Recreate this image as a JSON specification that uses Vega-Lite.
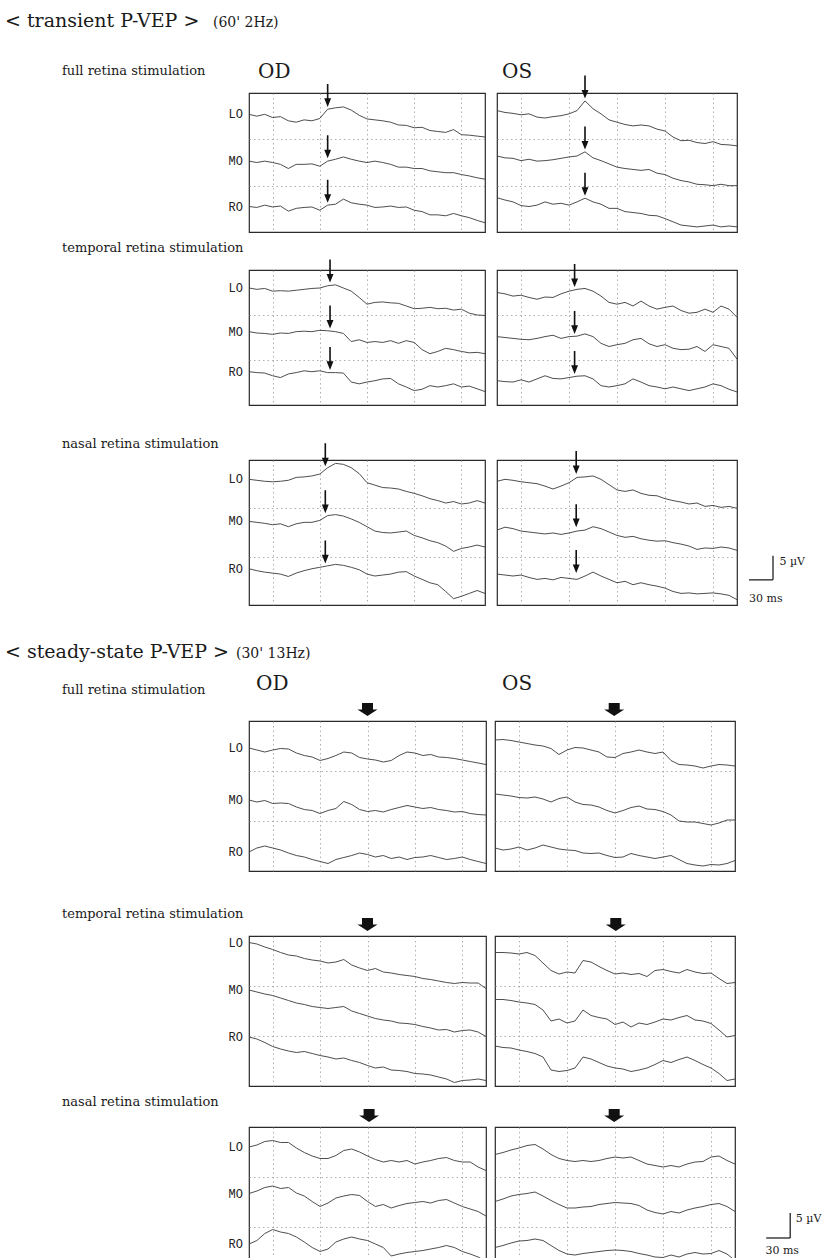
{
"$schema": "https://vega.github.io/schema/vega-lite/v6.json",
"padding": {"left": 5, "top": 11, "right": 0, "bottom": 0},
"background": "white",
"config": {
  "view": {"stroke": "#2a2a2a", "strokeWidth": 1.2},
  "axis": {"grid": true, "gridDash": [1.5, 3], "gridColor": "#9a9a9a", "gridWidth": 0.8, "labels": false, "ticks": false, "domain": false},
  "title": {"font": "DejaVu Serif", "fontWeight": "normal", "color": "#1a1a1a", "anchor": "start", "frame": "group"},
  "text": {"font": "DejaVu Serif", "fill": "#1a1a1a"}
},
"datasets": {
"t1d": [
{"c":"LO","t":0,"v":25.4},{"c":"LO","t":10,"v":25.0},{"c":"LO","t":20,"v":25.4},{"c":"LO","t":30,"v":24.7},{"c":"LO","t":40,"v":24.9},{"c":"LO","t":50,"v":24.0},{"c":"LO","t":60,"v":23.7},{"c":"LO","t":70,"v":24.2},{"c":"LO","t":80,"v":24.0},{"c":"LO","t":90,"v":24.5},{"c":"LO","t":100,"v":26.5},{"c":"LO","t":110,"v":26.8},{"c":"LO","t":120,"v":27.0},{"c":"LO","t":130,"v":26.3},{"c":"LO","t":140,"v":25.2},{"c":"LO","t":150,"v":24.4},{"c":"LO","t":160,"v":24.2},{"c":"LO","t":170,"v":24.0},{"c":"LO","t":180,"v":23.7},{"c":"LO","t":190,"v":23.1},{"c":"LO","t":200,"v":23.0},{"c":"LO","t":210,"v":22.5},{"c":"LO","t":220,"v":22.6},{"c":"LO","t":230,"v":21.9},{"c":"LO","t":240,"v":21.7},{"c":"LO","t":250,"v":21.5},{"c":"LO","t":260,"v":22.1},{"c":"LO","t":270,"v":21.0},{"c":"LO","t":280,"v":20.9},{"c":"LO","t":290,"v":20.7},{"c":"LO","t":300,"v":20.5},
{"c":"MO","t":0,"v":15.3},{"c":"MO","t":10,"v":15.0},{"c":"MO","t":20,"v":15.3},{"c":"MO","t":30,"v":15.0},{"c":"MO","t":40,"v":14.6},{"c":"MO","t":50,"v":13.7},{"c":"MO","t":60,"v":14.6},{"c":"MO","t":70,"v":14.6},{"c":"MO","t":80,"v":14.7},{"c":"MO","t":90,"v":14.2},{"c":"MO","t":100,"v":15.3},{"c":"MO","t":110,"v":15.7},{"c":"MO","t":120,"v":16.2},{"c":"MO","t":130,"v":15.7},{"c":"MO","t":140,"v":15.3},{"c":"MO","t":150,"v":15.0},{"c":"MO","t":160,"v":15.3},{"c":"MO","t":170,"v":15.0},{"c":"MO","t":180,"v":14.6},{"c":"MO","t":190,"v":14.0},{"c":"MO","t":200,"v":14.0},{"c":"MO","t":210,"v":13.7},{"c":"MO","t":220,"v":13.7},{"c":"MO","t":230,"v":13.2},{"c":"MO","t":240,"v":13.0},{"c":"MO","t":250,"v":12.8},{"c":"MO","t":260,"v":12.8},{"c":"MO","t":270,"v":12.4},{"c":"MO","t":280,"v":12.1},{"c":"MO","t":290,"v":11.7},{"c":"MO","t":300,"v":11.4},
{"c":"RO","t":0,"v":5.5},{"c":"RO","t":10,"v":5.3},{"c":"RO","t":20,"v":5.8},{"c":"RO","t":30,"v":5.4},{"c":"RO","t":40,"v":5.6},{"c":"RO","t":50,"v":4.5},{"c":"RO","t":60,"v":5.1},{"c":"RO","t":70,"v":5.3},{"c":"RO","t":80,"v":5.4},{"c":"RO","t":90,"v":4.7},{"c":"RO","t":100,"v":5.8},{"c":"RO","t":110,"v":6.0},{"c":"RO","t":120,"v":7.1},{"c":"RO","t":130,"v":6.3},{"c":"RO","t":140,"v":6.0},{"c":"RO","t":150,"v":5.8},{"c":"RO","t":160,"v":5.3},{"c":"RO","t":170,"v":5.4},{"c":"RO","t":180,"v":5.6},{"c":"RO","t":190,"v":5.3},{"c":"RO","t":200,"v":5.4},{"c":"RO","t":210,"v":4.7},{"c":"RO","t":220,"v":4.4},{"c":"RO","t":230,"v":3.7},{"c":"RO","t":240,"v":3.7},{"c":"RO","t":250,"v":3.5},{"c":"RO","t":260,"v":4.0},{"c":"RO","t":270,"v":3.5},{"c":"RO","t":280,"v":3.1},{"c":"RO","t":290,"v":2.5},{"c":"RO","t":300,"v":2.0}
],
"t1s": [
{"c":"LO","t":0,"v":26.2},{"c":"LO","t":10,"v":25.8},{"c":"LO","t":20,"v":25.6},{"c":"LO","t":30,"v":25.3},{"c":"LO","t":40,"v":25.5},{"c":"LO","t":50,"v":24.8},{"c":"LO","t":60,"v":24.6},{"c":"LO","t":70,"v":24.9},{"c":"LO","t":80,"v":25.1},{"c":"LO","t":90,"v":25.5},{"c":"LO","t":100,"v":26.2},{"c":"LO","t":110,"v":28.3},{"c":"LO","t":120,"v":26.6},{"c":"LO","t":130,"v":25.5},{"c":"LO","t":140,"v":24.2},{"c":"LO","t":150,"v":23.7},{"c":"LO","t":160,"v":23.2},{"c":"LO","t":170,"v":22.9},{"c":"LO","t":180,"v":23.1},{"c":"LO","t":190,"v":22.9},{"c":"LO","t":200,"v":22.2},{"c":"LO","t":210,"v":21.8},{"c":"LO","t":220,"v":20.5},{"c":"LO","t":230,"v":19.7},{"c":"LO","t":240,"v":19.8},{"c":"LO","t":250,"v":19.3},{"c":"LO","t":260,"v":19.1},{"c":"LO","t":270,"v":19.5},{"c":"LO","t":280,"v":18.9},{"c":"LO","t":290,"v":18.8},{"c":"LO","t":300,"v":18.6},
{"c":"MO","t":0,"v":16.4},{"c":"MO","t":10,"v":16.0},{"c":"MO","t":20,"v":15.9},{"c":"MO","t":30,"v":15.4},{"c":"MO","t":40,"v":15.7},{"c":"MO","t":50,"v":15.3},{"c":"MO","t":60,"v":15.4},{"c":"MO","t":70,"v":15.6},{"c":"MO","t":80,"v":15.9},{"c":"MO","t":90,"v":16.2},{"c":"MO","t":100,"v":16.4},{"c":"MO","t":110,"v":17.3},{"c":"MO","t":120,"v":16.0},{"c":"MO","t":130,"v":15.4},{"c":"MO","t":140,"v":14.7},{"c":"MO","t":150,"v":14.0},{"c":"MO","t":160,"v":13.7},{"c":"MO","t":170,"v":13.5},{"c":"MO","t":180,"v":13.3},{"c":"MO","t":190,"v":13.5},{"c":"MO","t":200,"v":12.7},{"c":"MO","t":210,"v":12.4},{"c":"MO","t":220,"v":11.6},{"c":"MO","t":230,"v":11.1},{"c":"MO","t":240,"v":10.8},{"c":"MO","t":250,"v":10.3},{"c":"MO","t":260,"v":10.2},{"c":"MO","t":270,"v":10.0},{"c":"MO","t":280,"v":10.3},{"c":"MO","t":290,"v":10.0},{"c":"MO","t":300,"v":10.0},
{"c":"RO","t":0,"v":7.4},{"c":"RO","t":10,"v":6.9},{"c":"RO","t":20,"v":6.5},{"c":"RO","t":30,"v":5.7},{"c":"RO","t":40,"v":5.5},{"c":"RO","t":50,"v":5.8},{"c":"RO","t":60,"v":6.5},{"c":"RO","t":70,"v":6.0},{"c":"RO","t":80,"v":6.2},{"c":"RO","t":90,"v":5.8},{"c":"RO","t":100,"v":6.5},{"c":"RO","t":110,"v":7.3},{"c":"RO","t":120,"v":6.5},{"c":"RO","t":130,"v":6.0},{"c":"RO","t":140,"v":5.1},{"c":"RO","t":150,"v":5.1},{"c":"RO","t":160,"v":4.4},{"c":"RO","t":170,"v":4.2},{"c":"RO","t":180,"v":4.0},{"c":"RO","t":190,"v":3.6},{"c":"RO","t":200,"v":3.5},{"c":"RO","t":210,"v":2.9},{"c":"RO","t":220,"v":2.2},{"c":"RO","t":230,"v":1.5},{"c":"RO","t":240,"v":1.3},{"c":"RO","t":250,"v":1.1},{"c":"RO","t":260,"v":1.3},{"c":"RO","t":270,"v":1.5},{"c":"RO","t":280,"v":1.1},{"c":"RO","t":290,"v":1.3},{"c":"RO","t":300,"v":1.1}
],
"t2d": [
{"c":"LO","t":0,"v":26.0},{"c":"LO","t":10,"v":25.7},{"c":"LO","t":20,"v":25.9},{"c":"LO","t":30,"v":25.3},{"c":"LO","t":40,"v":25.4},{"c":"LO","t":50,"v":25.3},{"c":"LO","t":60,"v":25.5},{"c":"LO","t":70,"v":25.7},{"c":"LO","t":80,"v":25.9},{"c":"LO","t":90,"v":26.0},{"c":"LO","t":100,"v":26.5},{"c":"LO","t":110,"v":26.7},{"c":"LO","t":120,"v":26.0},{"c":"LO","t":130,"v":25.3},{"c":"LO","t":140,"v":23.9},{"c":"LO","t":150,"v":22.4},{"c":"LO","t":160,"v":22.8},{"c":"LO","t":170,"v":22.9},{"c":"LO","t":180,"v":22.7},{"c":"LO","t":190,"v":22.6},{"c":"LO","t":200,"v":22.0},{"c":"LO","t":210,"v":21.4},{"c":"LO","t":220,"v":21.5},{"c":"LO","t":230,"v":21.7},{"c":"LO","t":240,"v":21.4},{"c":"LO","t":250,"v":21.5},{"c":"LO","t":260,"v":21.1},{"c":"LO","t":270,"v":21.3},{"c":"LO","t":280,"v":20.4},{"c":"LO","t":290,"v":20.0},{"c":"LO","t":300,"v":19.9},
{"c":"MO","t":0,"v":16.3},{"c":"MO","t":10,"v":16.0},{"c":"MO","t":20,"v":15.9},{"c":"MO","t":30,"v":15.7},{"c":"MO","t":40,"v":16.0},{"c":"MO","t":50,"v":15.9},{"c":"MO","t":60,"v":16.3},{"c":"MO","t":70,"v":16.4},{"c":"MO","t":80,"v":16.3},{"c":"MO","t":90,"v":16.6},{"c":"MO","t":100,"v":16.5},{"c":"MO","t":110,"v":16.3},{"c":"MO","t":120,"v":15.9},{"c":"MO","t":130,"v":14.1},{"c":"MO","t":140,"v":14.5},{"c":"MO","t":150,"v":13.9},{"c":"MO","t":160,"v":14.1},{"c":"MO","t":170,"v":13.9},{"c":"MO","t":180,"v":14.3},{"c":"MO","t":190,"v":13.7},{"c":"MO","t":200,"v":14.3},{"c":"MO","t":210,"v":13.9},{"c":"MO","t":220,"v":12.3},{"c":"MO","t":230,"v":11.4},{"c":"MO","t":240,"v":11.9},{"c":"MO","t":250,"v":12.6},{"c":"MO","t":260,"v":12.3},{"c":"MO","t":270,"v":11.9},{"c":"MO","t":280,"v":11.6},{"c":"MO","t":290,"v":11.7},{"c":"MO","t":300,"v":11.4},
{"c":"RO","t":0,"v":7.4},{"c":"RO","t":10,"v":7.2},{"c":"RO","t":20,"v":7.1},{"c":"RO","t":30,"v":6.5},{"c":"RO","t":40,"v":6.1},{"c":"RO","t":50,"v":6.9},{"c":"RO","t":60,"v":7.2},{"c":"RO","t":70,"v":7.6},{"c":"RO","t":80,"v":7.4},{"c":"RO","t":90,"v":7.6},{"c":"RO","t":100,"v":7.2},{"c":"RO","t":110,"v":7.2},{"c":"RO","t":120,"v":7.1},{"c":"RO","t":130,"v":5.1},{"c":"RO","t":140,"v":4.7},{"c":"RO","t":150,"v":5.1},{"c":"RO","t":160,"v":5.4},{"c":"RO","t":170,"v":5.8},{"c":"RO","t":180,"v":5.9},{"c":"RO","t":190,"v":4.7},{"c":"RO","t":200,"v":4.0},{"c":"RO","t":210,"v":3.2},{"c":"RO","t":220,"v":3.5},{"c":"RO","t":230,"v":4.3},{"c":"RO","t":240,"v":4.0},{"c":"RO","t":250,"v":4.3},{"c":"RO","t":260,"v":4.7},{"c":"RO","t":270,"v":4.0},{"c":"RO","t":280,"v":4.2},{"c":"RO","t":290,"v":3.6},{"c":"RO","t":300,"v":3.0}
],
"t2s": [
{"c":"LO","t":0,"v":25.0},{"c":"LO","t":10,"v":24.7},{"c":"LO","t":20,"v":24.2},{"c":"LO","t":30,"v":24.4},{"c":"LO","t":40,"v":23.9},{"c":"LO","t":50,"v":23.5},{"c":"LO","t":60,"v":24.0},{"c":"LO","t":70,"v":23.9},{"c":"LO","t":80,"v":24.7},{"c":"LO","t":90,"v":25.3},{"c":"LO","t":100,"v":25.7},{"c":"LO","t":110,"v":25.9},{"c":"LO","t":120,"v":25.3},{"c":"LO","t":130,"v":24.2},{"c":"LO","t":140,"v":22.8},{"c":"LO","t":150,"v":22.4},{"c":"LO","t":160,"v":22.8},{"c":"LO","t":170,"v":22.0},{"c":"LO","t":180,"v":23.1},{"c":"LO","t":190,"v":22.0},{"c":"LO","t":200,"v":21.3},{"c":"LO","t":210,"v":21.7},{"c":"LO","t":220,"v":22.0},{"c":"LO","t":230,"v":21.0},{"c":"LO","t":240,"v":20.4},{"c":"LO","t":250,"v":20.6},{"c":"LO","t":260,"v":21.3},{"c":"LO","t":270,"v":20.6},{"c":"LO","t":280,"v":22.0},{"c":"LO","t":290,"v":21.3},{"c":"LO","t":300,"v":19.5},
{"c":"MO","t":0,"v":15.2},{"c":"MO","t":10,"v":15.0},{"c":"MO","t":20,"v":14.8},{"c":"MO","t":30,"v":14.6},{"c":"MO","t":40,"v":14.5},{"c":"MO","t":50,"v":14.8},{"c":"MO","t":60,"v":15.2},{"c":"MO","t":70,"v":15.5},{"c":"MO","t":80,"v":14.8},{"c":"MO","t":90,"v":15.2},{"c":"MO","t":100,"v":15.3},{"c":"MO","t":110,"v":15.8},{"c":"MO","t":120,"v":15.2},{"c":"MO","t":130,"v":13.7},{"c":"MO","t":140,"v":13.0},{"c":"MO","t":150,"v":13.4},{"c":"MO","t":160,"v":13.7},{"c":"MO","t":170,"v":14.5},{"c":"MO","t":180,"v":14.8},{"c":"MO","t":190,"v":13.6},{"c":"MO","t":200,"v":13.0},{"c":"MO","t":210,"v":13.4},{"c":"MO","t":220,"v":12.6},{"c":"MO","t":230,"v":12.3},{"c":"MO","t":240,"v":12.4},{"c":"MO","t":250,"v":13.0},{"c":"MO","t":260,"v":11.9},{"c":"MO","t":270,"v":13.4},{"c":"MO","t":280,"v":13.0},{"c":"MO","t":290,"v":12.6},{"c":"MO","t":300,"v":10.2},
{"c":"RO","t":0,"v":5.4},{"c":"RO","t":10,"v":5.2},{"c":"RO","t":20,"v":5.1},{"c":"RO","t":30,"v":5.6},{"c":"RO","t":40,"v":5.1},{"c":"RO","t":50,"v":5.8},{"c":"RO","t":60,"v":6.5},{"c":"RO","t":70,"v":5.9},{"c":"RO","t":80,"v":5.8},{"c":"RO","t":90,"v":6.1},{"c":"RO","t":100,"v":6.4},{"c":"RO","t":110,"v":6.5},{"c":"RO","t":120,"v":5.8},{"c":"RO","t":130,"v":4.3},{"c":"RO","t":140,"v":4.0},{"c":"RO","t":150,"v":4.3},{"c":"RO","t":160,"v":4.7},{"c":"RO","t":170,"v":5.8},{"c":"RO","t":180,"v":5.1},{"c":"RO","t":190,"v":4.3},{"c":"RO","t":200,"v":4.0},{"c":"RO","t":210,"v":3.6},{"c":"RO","t":220,"v":4.0},{"c":"RO","t":230,"v":3.6},{"c":"RO","t":240,"v":3.2},{"c":"RO","t":250,"v":3.6},{"c":"RO","t":260,"v":4.0},{"c":"RO","t":270,"v":4.7},{"c":"RO","t":280,"v":4.3},{"c":"RO","t":290,"v":3.5},{"c":"RO","t":300,"v":2.9}
],
"t3d": [
{"c":"LO","t":0,"v":26.0},{"c":"LO","t":10,"v":25.8},{"c":"LO","t":20,"v":25.6},{"c":"LO","t":30,"v":25.5},{"c":"LO","t":40,"v":25.6},{"c":"LO","t":50,"v":25.8},{"c":"LO","t":60,"v":26.4},{"c":"LO","t":70,"v":26.5},{"c":"LO","t":80,"v":26.7},{"c":"LO","t":90,"v":27.1},{"c":"LO","t":100,"v":28.4},{"c":"LO","t":110,"v":29.3},{"c":"LO","t":120,"v":29.1},{"c":"LO","t":130,"v":28.4},{"c":"LO","t":140,"v":27.2},{"c":"LO","t":150,"v":25.3},{"c":"LO","t":160,"v":24.8},{"c":"LO","t":170,"v":24.3},{"c":"LO","t":180,"v":24.2},{"c":"LO","t":190,"v":24.0},{"c":"LO","t":200,"v":23.5},{"c":"LO","t":210,"v":23.1},{"c":"LO","t":220,"v":22.6},{"c":"LO","t":230,"v":22.0},{"c":"LO","t":240,"v":21.6},{"c":"LO","t":250,"v":21.1},{"c":"LO","t":260,"v":21.4},{"c":"LO","t":270,"v":20.9},{"c":"LO","t":280,"v":21.1},{"c":"LO","t":290,"v":21.6},{"c":"LO","t":300,"v":21.1},
{"c":"MO","t":0,"v":17.3},{"c":"MO","t":10,"v":17.1},{"c":"MO","t":20,"v":16.9},{"c":"MO","t":30,"v":16.6},{"c":"MO","t":40,"v":16.8},{"c":"MO","t":50,"v":16.2},{"c":"MO","t":60,"v":16.8},{"c":"MO","t":70,"v":17.1},{"c":"MO","t":80,"v":17.1},{"c":"MO","t":90,"v":17.5},{"c":"MO","t":100,"v":18.5},{"c":"MO","t":110,"v":18.7},{"c":"MO","t":120,"v":18.4},{"c":"MO","t":130,"v":17.8},{"c":"MO","t":140,"v":17.1},{"c":"MO","t":150,"v":16.2},{"c":"MO","t":160,"v":15.3},{"c":"MO","t":170,"v":15.0},{"c":"MO","t":180,"v":14.9},{"c":"MO","t":190,"v":15.1},{"c":"MO","t":200,"v":15.3},{"c":"MO","t":210,"v":14.4},{"c":"MO","t":220,"v":13.9},{"c":"MO","t":230,"v":13.3},{"c":"MO","t":240,"v":12.9},{"c":"MO","t":250,"v":12.2},{"c":"MO","t":260,"v":11.1},{"c":"MO","t":270,"v":11.7},{"c":"MO","t":280,"v":12.0},{"c":"MO","t":290,"v":12.4},{"c":"MO","t":300,"v":12.0},
{"c":"RO","t":0,"v":7.5},{"c":"RO","t":10,"v":7.1},{"c":"RO","t":20,"v":6.8},{"c":"RO","t":30,"v":6.6},{"c":"RO","t":40,"v":6.4},{"c":"RO","t":50,"v":5.9},{"c":"RO","t":60,"v":6.6},{"c":"RO","t":70,"v":7.1},{"c":"RO","t":80,"v":7.5},{"c":"RO","t":90,"v":7.8},{"c":"RO","t":100,"v":8.1},{"c":"RO","t":110,"v":8.4},{"c":"RO","t":120,"v":8.2},{"c":"RO","t":130,"v":7.8},{"c":"RO","t":140,"v":7.3},{"c":"RO","t":150,"v":6.4},{"c":"RO","t":160,"v":6.0},{"c":"RO","t":170,"v":6.2},{"c":"RO","t":180,"v":6.4},{"c":"RO","t":190,"v":6.8},{"c":"RO","t":200,"v":6.9},{"c":"RO","t":210,"v":6.0},{"c":"RO","t":220,"v":5.3},{"c":"RO","t":230,"v":4.6},{"c":"RO","t":240,"v":4.2},{"c":"RO","t":250,"v":2.8},{"c":"RO","t":260,"v":1.3},{"c":"RO","t":270,"v":1.8},{"c":"RO","t":280,"v":2.4},{"c":"RO","t":290,"v":3.0},{"c":"RO","t":300,"v":2.4}
],
"t3s": [
{"c":"LO","t":0,"v":25.6},{"c":"LO","t":10,"v":26.0},{"c":"LO","t":20,"v":25.8},{"c":"LO","t":30,"v":25.5},{"c":"LO","t":40,"v":25.3},{"c":"LO","t":50,"v":25.1},{"c":"LO","t":60,"v":24.6},{"c":"LO","t":70,"v":24.0},{"c":"LO","t":80,"v":24.6},{"c":"LO","t":90,"v":25.3},{"c":"LO","t":100,"v":26.4},{"c":"LO","t":110,"v":26.5},{"c":"LO","t":120,"v":26.7},{"c":"LO","t":130,"v":26.0},{"c":"LO","t":140,"v":24.9},{"c":"LO","t":150,"v":23.8},{"c":"LO","t":160,"v":23.5},{"c":"LO","t":170,"v":23.8},{"c":"LO","t":180,"v":23.1},{"c":"LO","t":190,"v":22.7},{"c":"LO","t":200,"v":22.6},{"c":"LO","t":210,"v":22.0},{"c":"LO","t":220,"v":21.6},{"c":"LO","t":230,"v":21.3},{"c":"LO","t":240,"v":20.9},{"c":"LO","t":250,"v":21.1},{"c":"LO","t":260,"v":20.4},{"c":"LO","t":270,"v":20.6},{"c":"LO","t":280,"v":20.2},{"c":"LO","t":290,"v":20.4},{"c":"LO","t":300,"v":20.0},
{"c":"MO","t":0,"v":15.5},{"c":"MO","t":10,"v":16.1},{"c":"MO","t":20,"v":15.8},{"c":"MO","t":30,"v":15.3},{"c":"MO","t":40,"v":15.1},{"c":"MO","t":50,"v":14.9},{"c":"MO","t":60,"v":14.7},{"c":"MO","t":70,"v":14.9},{"c":"MO","t":80,"v":14.6},{"c":"MO","t":90,"v":14.9},{"c":"MO","t":100,"v":15.3},{"c":"MO","t":110,"v":15.5},{"c":"MO","t":120,"v":16.2},{"c":"MO","t":130,"v":15.8},{"c":"MO","t":140,"v":15.1},{"c":"MO","t":150,"v":14.4},{"c":"MO","t":160,"v":14.0},{"c":"MO","t":170,"v":14.2},{"c":"MO","t":180,"v":13.7},{"c":"MO","t":190,"v":13.4},{"c":"MO","t":200,"v":13.2},{"c":"MO","t":210,"v":13.3},{"c":"MO","t":220,"v":12.9},{"c":"MO","t":230,"v":12.6},{"c":"MO","t":240,"v":12.2},{"c":"MO","t":250,"v":11.5},{"c":"MO","t":260,"v":11.8},{"c":"MO","t":270,"v":11.7},{"c":"MO","t":280,"v":12.0},{"c":"MO","t":290,"v":11.8},{"c":"MO","t":300,"v":11.3},
{"c":"RO","t":0,"v":6.4},{"c":"RO","t":10,"v":6.2},{"c":"RO","t":20,"v":6.0},{"c":"RO","t":30,"v":6.2},{"c":"RO","t":40,"v":5.7},{"c":"RO","t":50,"v":5.3},{"c":"RO","t":60,"v":5.5},{"c":"RO","t":70,"v":5.2},{"c":"RO","t":80,"v":5.7},{"c":"RO","t":90,"v":5.5},{"c":"RO","t":100,"v":5.3},{"c":"RO","t":110,"v":6.0},{"c":"RO","t":120,"v":6.8},{"c":"RO","t":130,"v":6.0},{"c":"RO","t":140,"v":5.3},{"c":"RO","t":150,"v":4.6},{"c":"RO","t":160,"v":4.9},{"c":"RO","t":170,"v":4.2},{"c":"RO","t":180,"v":4.6},{"c":"RO","t":190,"v":4.2},{"c":"RO","t":200,"v":3.9},{"c":"RO","t":210,"v":3.5},{"c":"RO","t":220,"v":2.8},{"c":"RO","t":230,"v":2.4},{"c":"RO","t":240,"v":2.5},{"c":"RO","t":250,"v":2.3},{"c":"RO","t":260,"v":2.4},{"c":"RO","t":270,"v":2.5},{"c":"RO","t":280,"v":2.3},{"c":"RO","t":290,"v":2.0},{"c":"RO","t":300,"v":1.1}
],
"s1d": [
{"c":"LO","t":0,"v":24.6},{"c":"LO","t":10,"v":24.2},{"c":"LO","t":20,"v":23.8},{"c":"LO","t":30,"v":24.2},{"c":"LO","t":40,"v":24.5},{"c":"LO","t":50,"v":24.4},{"c":"LO","t":60,"v":23.6},{"c":"LO","t":70,"v":23.1},{"c":"LO","t":80,"v":22.8},{"c":"LO","t":90,"v":22.1},{"c":"LO","t":100,"v":22.5},{"c":"LO","t":110,"v":23.1},{"c":"LO","t":120,"v":23.8},{"c":"LO","t":130,"v":23.6},{"c":"LO","t":140,"v":22.7},{"c":"LO","t":150,"v":22.4},{"c":"LO","t":160,"v":22.2},{"c":"LO","t":170,"v":21.8},{"c":"LO","t":180,"v":22.1},{"c":"LO","t":190,"v":23.1},{"c":"LO","t":200,"v":23.8},{"c":"LO","t":210,"v":23.6},{"c":"LO","t":220,"v":23.1},{"c":"LO","t":230,"v":23.3},{"c":"LO","t":240,"v":22.8},{"c":"LO","t":250,"v":22.7},{"c":"LO","t":260,"v":22.5},{"c":"LO","t":270,"v":22.2},{"c":"LO","t":280,"v":21.9},{"c":"LO","t":290,"v":21.6},{"c":"LO","t":300,"v":21.3},
{"c":"MO","t":0,"v":14.2},{"c":"MO","t":10,"v":13.8},{"c":"MO","t":20,"v":14.1},{"c":"MO","t":30,"v":13.5},{"c":"MO","t":40,"v":13.6},{"c":"MO","t":50,"v":13.5},{"c":"MO","t":60,"v":12.8},{"c":"MO","t":70,"v":12.3},{"c":"MO","t":80,"v":12.1},{"c":"MO","t":90,"v":11.5},{"c":"MO","t":100,"v":12.1},{"c":"MO","t":110,"v":12.5},{"c":"MO","t":120,"v":13.9},{"c":"MO","t":130,"v":13.3},{"c":"MO","t":140,"v":12.3},{"c":"MO","t":150,"v":11.9},{"c":"MO","t":160,"v":12.1},{"c":"MO","t":170,"v":11.8},{"c":"MO","t":180,"v":12.3},{"c":"MO","t":190,"v":12.7},{"c":"MO","t":200,"v":13.1},{"c":"MO","t":210,"v":12.8},{"c":"MO","t":220,"v":12.5},{"c":"MO","t":230,"v":12.7},{"c":"MO","t":240,"v":12.3},{"c":"MO","t":250,"v":12.1},{"c":"MO","t":260,"v":11.8},{"c":"MO","t":270,"v":11.9},{"c":"MO","t":280,"v":11.5},{"c":"MO","t":290,"v":11.3},{"c":"MO","t":300,"v":11.2},
{"c":"RO","t":0,"v":3.8},{"c":"RO","t":10,"v":4.6},{"c":"RO","t":20,"v":5.0},{"c":"RO","t":30,"v":4.6},{"c":"RO","t":40,"v":4.2},{"c":"RO","t":50,"v":3.6},{"c":"RO","t":60,"v":3.1},{"c":"RO","t":70,"v":2.8},{"c":"RO","t":80,"v":2.3},{"c":"RO","t":90,"v":1.9},{"c":"RO","t":100,"v":1.5},{"c":"RO","t":110,"v":2.3},{"c":"RO","t":120,"v":2.7},{"c":"RO","t":130,"v":3.1},{"c":"RO","t":140,"v":3.6},{"c":"RO","t":150,"v":3.3},{"c":"RO","t":160,"v":2.8},{"c":"RO","t":170,"v":3.1},{"c":"RO","t":180,"v":2.5},{"c":"RO","t":190,"v":2.8},{"c":"RO","t":200,"v":2.3},{"c":"RO","t":210,"v":2.7},{"c":"RO","t":220,"v":2.8},{"c":"RO","t":230,"v":3.1},{"c":"RO","t":240,"v":2.7},{"c":"RO","t":250,"v":2.3},{"c":"RO","t":260,"v":2.5},{"c":"RO","t":270,"v":2.8},{"c":"RO","t":280,"v":2.3},{"c":"RO","t":290,"v":1.9},{"c":"RO","t":300,"v":1.5}
],
"s1s": [
{"c":"LO","t":0,"v":26.2},{"c":"LO","t":10,"v":26.3},{"c":"LO","t":20,"v":26.1},{"c":"LO","t":30,"v":25.8},{"c":"LO","t":40,"v":25.5},{"c":"LO","t":50,"v":25.2},{"c":"LO","t":60,"v":25.0},{"c":"LO","t":70,"v":24.5},{"c":"LO","t":80,"v":23.3},{"c":"LO","t":90,"v":24.2},{"c":"LO","t":100,"v":24.7},{"c":"LO","t":110,"v":24.6},{"c":"LO","t":120,"v":24.2},{"c":"LO","t":130,"v":23.8},{"c":"LO","t":140,"v":22.8},{"c":"LO","t":150,"v":22.7},{"c":"LO","t":160,"v":23.5},{"c":"LO","t":170,"v":23.8},{"c":"LO","t":180,"v":24.2},{"c":"LO","t":190,"v":23.8},{"c":"LO","t":200,"v":23.5},{"c":"LO","t":210,"v":23.8},{"c":"LO","t":220,"v":22.1},{"c":"LO","t":230,"v":21.3},{"c":"LO","t":240,"v":21.2},{"c":"LO","t":250,"v":21.0},{"c":"LO","t":260,"v":20.6},{"c":"LO","t":270,"v":21.0},{"c":"LO","t":280,"v":21.3},{"c":"LO","t":290,"v":21.2},{"c":"LO","t":300,"v":21.0},
{"c":"MO","t":0,"v":15.4},{"c":"MO","t":10,"v":15.2},{"c":"MO","t":20,"v":15.0},{"c":"MO","t":30,"v":14.7},{"c":"MO","t":40,"v":14.6},{"c":"MO","t":50,"v":14.8},{"c":"MO","t":60,"v":14.4},{"c":"MO","t":70,"v":13.8},{"c":"MO","t":80,"v":14.5},{"c":"MO","t":90,"v":14.8},{"c":"MO","t":100,"v":13.8},{"c":"MO","t":110,"v":13.3},{"c":"MO","t":120,"v":13.2},{"c":"MO","t":130,"v":12.8},{"c":"MO","t":140,"v":12.1},{"c":"MO","t":150,"v":11.6},{"c":"MO","t":160,"v":12.1},{"c":"MO","t":170,"v":12.7},{"c":"MO","t":180,"v":13.0},{"c":"MO","t":190,"v":12.4},{"c":"MO","t":200,"v":12.3},{"c":"MO","t":210,"v":11.9},{"c":"MO","t":220,"v":11.2},{"c":"MO","t":230,"v":10.0},{"c":"MO","t":240,"v":9.8},{"c":"MO","t":250,"v":9.8},{"c":"MO","t":260,"v":9.5},{"c":"MO","t":270,"v":9.2},{"c":"MO","t":280,"v":9.6},{"c":"MO","t":290,"v":10.2},{"c":"MO","t":300,"v":10.2},
{"c":"RO","t":0,"v":4.6},{"c":"RO","t":10,"v":4.2},{"c":"RO","t":20,"v":4.4},{"c":"RO","t":30,"v":4.8},{"c":"RO","t":40,"v":4.2},{"c":"RO","t":50,"v":4.6},{"c":"RO","t":60,"v":5.2},{"c":"RO","t":70,"v":4.8},{"c":"RO","t":80,"v":4.4},{"c":"RO","t":90,"v":4.2},{"c":"RO","t":100,"v":4.1},{"c":"RO","t":110,"v":3.6},{"c":"RO","t":120,"v":3.5},{"c":"RO","t":130,"v":3.6},{"c":"RO","t":140,"v":3.1},{"c":"RO","t":150,"v":2.7},{"c":"RO","t":160,"v":2.8},{"c":"RO","t":170,"v":3.5},{"c":"RO","t":180,"v":3.1},{"c":"RO","t":190,"v":2.8},{"c":"RO","t":200,"v":2.5},{"c":"RO","t":210,"v":2.8},{"c":"RO","t":220,"v":3.1},{"c":"RO","t":230,"v":2.3},{"c":"RO","t":240,"v":1.5},{"c":"RO","t":250,"v":1.2},{"c":"RO","t":260,"v":1.0},{"c":"RO","t":270,"v":1.3},{"c":"RO","t":280,"v":1.2},{"c":"RO","t":290,"v":1.5},{"c":"RO","t":300,"v":2.1}
],
"s2d": [
{"c":"LO","t":0,"v":28.7},{"c":"LO","t":10,"v":28.4},{"c":"LO","t":20,"v":27.8},{"c":"LO","t":30,"v":27.3},{"c":"LO","t":40,"v":26.7},{"c":"LO","t":50,"v":26.2},{"c":"LO","t":60,"v":26.0},{"c":"LO","t":70,"v":25.5},{"c":"LO","t":80,"v":25.2},{"c":"LO","t":90,"v":25.0},{"c":"LO","t":100,"v":24.6},{"c":"LO","t":110,"v":24.8},{"c":"LO","t":120,"v":25.3},{"c":"LO","t":130,"v":24.2},{"c":"LO","t":140,"v":23.6},{"c":"LO","t":150,"v":23.1},{"c":"LO","t":160,"v":23.5},{"c":"LO","t":170,"v":22.8},{"c":"LO","t":180,"v":22.6},{"c":"LO","t":190,"v":22.3},{"c":"LO","t":200,"v":22.1},{"c":"LO","t":210,"v":21.9},{"c":"LO","t":220,"v":21.5},{"c":"LO","t":230,"v":21.3},{"c":"LO","t":240,"v":21.0},{"c":"LO","t":250,"v":20.7},{"c":"LO","t":260,"v":20.5},{"c":"LO","t":270,"v":20.7},{"c":"LO","t":280,"v":20.6},{"c":"LO","t":290,"v":20.6},{"c":"LO","t":300,"v":19.5},
{"c":"MO","t":0,"v":19.2},{"c":"MO","t":10,"v":18.8},{"c":"MO","t":20,"v":18.4},{"c":"MO","t":30,"v":18.1},{"c":"MO","t":40,"v":17.6},{"c":"MO","t":50,"v":17.1},{"c":"MO","t":60,"v":16.6},{"c":"MO","t":70,"v":16.3},{"c":"MO","t":80,"v":15.9},{"c":"MO","t":90,"v":15.7},{"c":"MO","t":100,"v":15.5},{"c":"MO","t":110,"v":15.7},{"c":"MO","t":120,"v":15.9},{"c":"MO","t":130,"v":15.0},{"c":"MO","t":140,"v":14.5},{"c":"MO","t":150,"v":14.0},{"c":"MO","t":160,"v":13.5},{"c":"MO","t":170,"v":13.2},{"c":"MO","t":180,"v":13.0},{"c":"MO","t":190,"v":12.6},{"c":"MO","t":200,"v":12.5},{"c":"MO","t":210,"v":12.3},{"c":"MO","t":220,"v":11.9},{"c":"MO","t":230,"v":11.6},{"c":"MO","t":240,"v":11.2},{"c":"MO","t":250,"v":11.3},{"c":"MO","t":260,"v":10.8},{"c":"MO","t":270,"v":11.1},{"c":"MO","t":280,"v":11.2},{"c":"MO","t":290,"v":10.8},{"c":"MO","t":300,"v":9.9},
{"c":"RO","t":0,"v":9.8},{"c":"RO","t":10,"v":9.4},{"c":"RO","t":20,"v":8.7},{"c":"RO","t":30,"v":7.9},{"c":"RO","t":40,"v":7.4},{"c":"RO","t":50,"v":7.0},{"c":"RO","t":60,"v":6.7},{"c":"RO","t":70,"v":6.9},{"c":"RO","t":80,"v":6.5},{"c":"RO","t":90,"v":6.1},{"c":"RO","t":100,"v":5.8},{"c":"RO","t":110,"v":5.4},{"c":"RO","t":120,"v":5.6},{"c":"RO","t":130,"v":5.1},{"c":"RO","t":140,"v":4.7},{"c":"RO","t":150,"v":4.1},{"c":"RO","t":160,"v":3.6},{"c":"RO","t":170,"v":3.8},{"c":"RO","t":180,"v":3.2},{"c":"RO","t":190,"v":3.1},{"c":"RO","t":200,"v":2.9},{"c":"RO","t":210,"v":2.5},{"c":"RO","t":220,"v":2.4},{"c":"RO","t":230,"v":2.2},{"c":"RO","t":240,"v":1.8},{"c":"RO","t":250,"v":1.4},{"c":"RO","t":260,"v":0.7},{"c":"RO","t":270,"v":1.1},{"c":"RO","t":280,"v":1.2},{"c":"RO","t":290,"v":1.4},{"c":"RO","t":300,"v":1.1}
],
"s2s": [
{"c":"LO","t":0,"v":26.7},{"c":"LO","t":10,"v":26.7},{"c":"LO","t":20,"v":26.6},{"c":"LO","t":30,"v":26.4},{"c":"LO","t":40,"v":26.7},{"c":"LO","t":50,"v":26.1},{"c":"LO","t":60,"v":24.6},{"c":"LO","t":70,"v":23.1},{"c":"LO","t":80,"v":22.4},{"c":"LO","t":90,"v":22.8},{"c":"LO","t":100,"v":22.6},{"c":"LO","t":110,"v":25.1},{"c":"LO","t":120,"v":24.8},{"c":"LO","t":130,"v":23.9},{"c":"LO","t":140,"v":23.1},{"c":"LO","t":150,"v":22.4},{"c":"LO","t":160,"v":22.6},{"c":"LO","t":170,"v":22.3},{"c":"LO","t":180,"v":22.5},{"c":"LO","t":190,"v":21.9},{"c":"LO","t":200,"v":23.1},{"c":"LO","t":210,"v":23.3},{"c":"LO","t":220,"v":22.9},{"c":"LO","t":230,"v":22.6},{"c":"LO","t":240,"v":23.3},{"c":"LO","t":250,"v":22.8},{"c":"LO","t":260,"v":22.5},{"c":"LO","t":270,"v":22.6},{"c":"LO","t":280,"v":21.5},{"c":"LO","t":290,"v":20.5},{"c":"LO","t":300,"v":20.7},
{"c":"MO","t":0,"v":17.3},{"c":"MO","t":10,"v":17.3},{"c":"MO","t":20,"v":17.1},{"c":"MO","t":30,"v":16.8},{"c":"MO","t":40,"v":16.6},{"c":"MO","t":50,"v":16.3},{"c":"MO","t":60,"v":15.2},{"c":"MO","t":70,"v":13.0},{"c":"MO","t":80,"v":13.4},{"c":"MO","t":90,"v":12.6},{"c":"MO","t":100,"v":13.0},{"c":"MO","t":110,"v":15.2},{"c":"MO","t":120,"v":14.1},{"c":"MO","t":130,"v":13.7},{"c":"MO","t":140,"v":13.4},{"c":"MO","t":150,"v":12.3},{"c":"MO","t":160,"v":12.8},{"c":"MO","t":170,"v":11.8},{"c":"MO","t":180,"v":12.6},{"c":"MO","t":190,"v":12.3},{"c":"MO","t":200,"v":12.8},{"c":"MO","t":210,"v":13.4},{"c":"MO","t":220,"v":13.2},{"c":"MO","t":230,"v":13.7},{"c":"MO","t":240,"v":14.1},{"c":"MO","t":250,"v":13.2},{"c":"MO","t":260,"v":13.0},{"c":"MO","t":270,"v":12.5},{"c":"MO","t":280,"v":11.2},{"c":"MO","t":290,"v":9.8},{"c":"MO","t":300,"v":10.1},
{"c":"RO","t":0,"v":8.0},{"c":"RO","t":10,"v":7.7},{"c":"RO","t":20,"v":7.6},{"c":"RO","t":30,"v":7.2},{"c":"RO","t":40,"v":6.9},{"c":"RO","t":50,"v":6.5},{"c":"RO","t":60,"v":5.8},{"c":"RO","t":70,"v":3.2},{"c":"RO","t":80,"v":2.9},{"c":"RO","t":90,"v":3.1},{"c":"RO","t":100,"v":3.6},{"c":"RO","t":110,"v":5.8},{"c":"RO","t":120,"v":5.4},{"c":"RO","t":130,"v":4.7},{"c":"RO","t":140,"v":4.0},{"c":"RO","t":150,"v":3.6},{"c":"RO","t":160,"v":3.4},{"c":"RO","t":170,"v":2.9},{"c":"RO","t":180,"v":3.2},{"c":"RO","t":190,"v":3.6},{"c":"RO","t":200,"v":4.3},{"c":"RO","t":210,"v":5.1},{"c":"RO","t":220,"v":4.7},{"c":"RO","t":230,"v":5.3},{"c":"RO","t":240,"v":5.8},{"c":"RO","t":250,"v":5.1},{"c":"RO","t":260,"v":4.3},{"c":"RO","t":270,"v":3.6},{"c":"RO","t":280,"v":2.5},{"c":"RO","t":290,"v":1.1},{"c":"RO","t":300,"v":1.4}
],
"s3d": [
{"c":"LO","t":0,"v":26.0},{"c":"LO","t":10,"v":26.4},{"c":"LO","t":20,"v":27.1},{"c":"LO","t":30,"v":27.3},{"c":"LO","t":40,"v":26.9},{"c":"LO","t":50,"v":26.9},{"c":"LO","t":60,"v":25.8},{"c":"LO","t":70,"v":24.9},{"c":"LO","t":80,"v":24.2},{"c":"LO","t":90,"v":23.7},{"c":"LO","t":100,"v":23.7},{"c":"LO","t":110,"v":24.3},{"c":"LO","t":120,"v":25.3},{"c":"LO","t":130,"v":25.6},{"c":"LO","t":140,"v":25.0},{"c":"LO","t":150,"v":24.2},{"c":"LO","t":160,"v":23.5},{"c":"LO","t":170,"v":23.0},{"c":"LO","t":180,"v":23.3},{"c":"LO","t":190,"v":23.0},{"c":"LO","t":200,"v":23.3},{"c":"LO","t":210,"v":22.6},{"c":"LO","t":220,"v":23.0},{"c":"LO","t":230,"v":23.3},{"c":"LO","t":240,"v":23.7},{"c":"LO","t":250,"v":23.9},{"c":"LO","t":260,"v":23.3},{"c":"LO","t":270,"v":23.0},{"c":"LO","t":280,"v":23.0},{"c":"LO","t":290,"v":22.0},{"c":"LO","t":300,"v":21.3},
{"c":"MO","t":0,"v":16.7},{"c":"MO","t":10,"v":17.2},{"c":"MO","t":20,"v":17.9},{"c":"MO","t":30,"v":18.2},{"c":"MO","t":40,"v":17.7},{"c":"MO","t":50,"v":17.9},{"c":"MO","t":60,"v":16.8},{"c":"MO","t":70,"v":16.2},{"c":"MO","t":80,"v":15.1},{"c":"MO","t":90,"v":14.1},{"c":"MO","t":100,"v":14.8},{"c":"MO","t":110,"v":15.8},{"c":"MO","t":120,"v":16.2},{"c":"MO","t":130,"v":16.5},{"c":"MO","t":140,"v":16.3},{"c":"MO","t":150,"v":15.1},{"c":"MO","t":160,"v":14.1},{"c":"MO","t":170,"v":14.5},{"c":"MO","t":180,"v":13.8},{"c":"MO","t":190,"v":14.3},{"c":"MO","t":200,"v":14.7},{"c":"MO","t":210,"v":14.9},{"c":"MO","t":220,"v":15.1},{"c":"MO","t":230,"v":14.8},{"c":"MO","t":240,"v":15.3},{"c":"MO","t":250,"v":15.5},{"c":"MO","t":260,"v":14.8},{"c":"MO","t":270,"v":14.1},{"c":"MO","t":280,"v":13.6},{"c":"MO","t":290,"v":13.1},{"c":"MO","t":300,"v":12.2},
{"c":"RO","t":0,"v":6.6},{"c":"RO","t":10,"v":7.3},{"c":"RO","t":20,"v":8.7},{"c":"RO","t":30,"v":9.5},{"c":"RO","t":40,"v":9.0},{"c":"RO","t":50,"v":8.7},{"c":"RO","t":60,"v":8.0},{"c":"RO","t":70,"v":7.0},{"c":"RO","t":80,"v":5.9},{"c":"RO","t":90,"v":5.1},{"c":"RO","t":100,"v":5.6},{"c":"RO","t":110,"v":7.0},{"c":"RO","t":120,"v":7.6},{"c":"RO","t":130,"v":8.0},{"c":"RO","t":140,"v":7.6},{"c":"RO","t":150,"v":7.3},{"c":"RO","t":160,"v":6.6},{"c":"RO","t":170,"v":5.9},{"c":"RO","t":180,"v":4.2},{"c":"RO","t":190,"v":4.6},{"c":"RO","t":200,"v":4.9},{"c":"RO","t":210,"v":5.1},{"c":"RO","t":220,"v":5.3},{"c":"RO","t":230,"v":5.6},{"c":"RO","t":240,"v":5.9},{"c":"RO","t":250,"v":6.3},{"c":"RO","t":260,"v":5.9},{"c":"RO","t":270,"v":5.1},{"c":"RO","t":280,"v":4.6},{"c":"RO","t":290,"v":4.0},{"c":"RO","t":300,"v":3.1}
],
"s3s": [
{"c":"LO","t":0,"v":24.5},{"c":"LO","t":10,"v":24.9},{"c":"LO","t":20,"v":25.4},{"c":"LO","t":30,"v":25.8},{"c":"LO","t":40,"v":26.3},{"c":"LO","t":50,"v":26.5},{"c":"LO","t":60,"v":25.6},{"c":"LO","t":70,"v":24.5},{"c":"LO","t":80,"v":23.7},{"c":"LO","t":90,"v":23.3},{"c":"LO","t":100,"v":23.1},{"c":"LO","t":110,"v":23.3},{"c":"LO","t":120,"v":23.1},{"c":"LO","t":130,"v":23.3},{"c":"LO","t":140,"v":23.7},{"c":"LO","t":150,"v":24.0},{"c":"LO","t":160,"v":23.8},{"c":"LO","t":170,"v":24.0},{"c":"LO","t":180,"v":23.3},{"c":"LO","t":190,"v":22.6},{"c":"LO","t":200,"v":22.3},{"c":"LO","t":210,"v":22.0},{"c":"LO","t":220,"v":22.3},{"c":"LO","t":230,"v":22.0},{"c":"LO","t":240,"v":22.6},{"c":"LO","t":250,"v":23.0},{"c":"LO","t":260,"v":23.1},{"c":"LO","t":270,"v":24.0},{"c":"LO","t":280,"v":24.2},{"c":"LO","t":290,"v":23.3},{"c":"LO","t":300,"v":22.6},
{"c":"MO","t":0,"v":15.1},{"c":"MO","t":10,"v":15.6},{"c":"MO","t":20,"v":16.2},{"c":"MO","t":30,"v":16.5},{"c":"MO","t":40,"v":16.7},{"c":"MO","t":50,"v":17.0},{"c":"MO","t":60,"v":16.2},{"c":"MO","t":70,"v":15.3},{"c":"MO","t":80,"v":14.5},{"c":"MO","t":90,"v":13.8},{"c":"MO","t":100,"v":13.8},{"c":"MO","t":110,"v":14.0},{"c":"MO","t":120,"v":14.1},{"c":"MO","t":130,"v":14.5},{"c":"MO","t":140,"v":14.7},{"c":"MO","t":150,"v":14.9},{"c":"MO","t":160,"v":14.8},{"c":"MO","t":170,"v":14.7},{"c":"MO","t":180,"v":14.3},{"c":"MO","t":190,"v":13.4},{"c":"MO","t":200,"v":12.9},{"c":"MO","t":210,"v":12.6},{"c":"MO","t":220,"v":13.1},{"c":"MO","t":230,"v":12.8},{"c":"MO","t":240,"v":13.4},{"c":"MO","t":250,"v":13.8},{"c":"MO","t":260,"v":14.1},{"c":"MO","t":270,"v":14.5},{"c":"MO","t":280,"v":14.7},{"c":"MO","t":290,"v":14.1},{"c":"MO","t":300,"v":13.1},
{"c":"RO","t":0,"v":5.9},{"c":"RO","t":10,"v":6.3},{"c":"RO","t":20,"v":6.8},{"c":"RO","t":30,"v":7.2},{"c":"RO","t":40,"v":7.3},{"c":"RO","t":50,"v":7.6},{"c":"RO","t":60,"v":7.3},{"c":"RO","t":70,"v":6.3},{"c":"RO","t":80,"v":5.3},{"c":"RO","t":90,"v":4.6},{"c":"RO","t":100,"v":4.4},{"c":"RO","t":110,"v":4.7},{"c":"RO","t":120,"v":4.9},{"c":"RO","t":130,"v":5.1},{"c":"RO","t":140,"v":5.3},{"c":"RO","t":150,"v":5.4},{"c":"RO","t":160,"v":5.3},{"c":"RO","t":170,"v":5.1},{"c":"RO","t":180,"v":4.7},{"c":"RO","t":190,"v":4.4},{"c":"RO","t":200,"v":4.0},{"c":"RO","t":210,"v":3.9},{"c":"RO","t":220,"v":4.4},{"c":"RO","t":230,"v":4.0},{"c":"RO","t":240,"v":4.6},{"c":"RO","t":250,"v":4.9},{"c":"RO","t":260,"v":4.6},{"c":"RO","t":270,"v":4.7},{"c":"RO","t":280,"v":5.3},{"c":"RO","t":290,"v":4.6},{"c":"RO","t":300,"v":3.3}
]
},
"spacing": 37,
"vconcat": [
{
 "title": {"text": "(60' 2Hz)", "fontSize": 14, "dx": -36, "dy": 18, "offset": 0},
 "vconcat": [
 {
  "title": {"text": "< transient P-VEP >", "fontSize": 19, "dx": -244, "offset": 30},
  "spacing": 9,
  "vconcat": [
  {
   "title": {"text": "full retina stimulation", "fontSize": 13, "dx": -187, "offset": 0, "dy": 17},
   "spacing": 6,
   "hconcat": [
    {"width": 236, "height": 139, "data": {"name": "t1d"}, "title": {"text": "OD", "fontSize": 20, "dx": 9, "offset": 2},
     "layer": [
      {"mark": {"type": "line", "stroke": "#3a3a3a", "strokeWidth": 0.9}, "encoding": {"x": {"field": "t", "type": "quantitative", "title": null, "scale": {"domain": [0, 300], "nice": false}, "axis": {"values": [30,60,90,120,150,180,210,240,270]}}, "y": {"field": "v", "type": "quantitative", "title": null, "scale": {"domain": [0, 30], "nice": false}, "axis": {"values": [10, 20]}}, "detail": {"field": "c"}}},
      {"transform": [{"filter": "datum.t === 0"}], "mark": {"type": "text", "align": "right", "baseline": "middle", "dx": -6, "font": "Liberation Mono", "fontSize": 12, "fill": "#222"}, "encoding": {"x": {"field": "t", "type": "quantitative", "title": null}, "y": {"field": "v", "type": "quantitative", "title": null}, "text": {"field": "c"}}},
      {"data": {"values": [{"t": 100, "v": 27.0}, {"t": 100, "v": 15.9}, {"t": 100, "v": 6.3}]}, "mark": {"type": "point", "shape": "M-0.07,-2L0.07,-2L0.07,-0.75L0.3,-0.75L0,0L-0.3,-0.75L-0.07,-0.75Z", "size": 529, "filled": true, "fill": "#111", "strokeWidth": 0, "opacity": 1}, "encoding": {"x": {"field": "t", "type": "quantitative", "title": null}, "y": {"field": "v", "type": "quantitative", "title": null}}}
     ]},
    {"width": 240, "height": 139, "data": {"name": "t1s"}, "title": {"text": "OS", "fontSize": 20, "dx": 5, "offset": -6},
     "layer": [
      {"mark": {"type": "line", "stroke": "#3a3a3a", "strokeWidth": 0.9}, "encoding": {"x": {"field": "t", "type": "quantitative", "title": null, "scale": {"domain": [0, 300], "nice": false}, "axis": {"values": [30,60,90,120,150,180,210,240,270]}}, "y": {"field": "v", "type": "quantitative", "title": null, "scale": {"domain": [0, 30], "nice": false}, "axis": {"values": [10, 20]}}, "detail": {"field": "c"}}},
      {"data": {"values": [{"t": 110, "v": 28.8}, {"t": 110, "v": 17.8}, {"t": 110, "v": 7.8}]}, "mark": {"type": "point", "shape": "M-0.07,-2L0.07,-2L0.07,-0.75L0.3,-0.75L0,0L-0.3,-0.75L-0.07,-0.75Z", "size": 529, "filled": true, "fill": "#111", "strokeWidth": 0, "opacity": 1}, "encoding": {"x": {"field": "t", "type": "quantitative", "title": null}, "y": {"field": "v", "type": "quantitative", "title": null}}}
     ]}
   ]
  },
  {
   "spacing": 31,
   "vconcat": [
   {
    "title": {"text": "temporal retina stimulation", "fontSize": 13, "dx": -187, "offset": 4},
    "spacing": 6,
    "hconcat": [
     {"width": 236, "height": 135, "data": {"name": "t2d"},
      "layer": [
       {"mark": {"type": "line", "stroke": "#3a3a3a", "strokeWidth": 0.9}, "encoding": {"x": {"field": "t", "type": "quantitative", "title": null, "scale": {"domain": [0, 300], "nice": false}, "axis": {"values": [30,60,90,120,150,180,210,240,270]}}, "y": {"field": "v", "type": "quantitative", "title": null, "scale": {"domain": [0, 30], "nice": false}, "axis": {"values": [10, 20]}}, "detail": {"field": "c"}}},
       {"transform": [{"filter": "datum.t === 0"}], "mark": {"type": "text", "align": "right", "baseline": "middle", "dx": -6, "font": "Liberation Mono", "fontSize": 12, "fill": "#222"}, "encoding": {"x": {"field": "t", "type": "quantitative", "title": null}, "y": {"field": "v", "type": "quantitative", "title": null}, "text": {"field": "c"}}},
       {"data": {"values": [{"t": 103, "v": 27.2}, {"t": 103, "v": 17.0}, {"t": 103, "v": 7.8}]}, "mark": {"type": "point", "shape": "M-0.07,-2L0.07,-2L0.07,-0.75L0.3,-0.75L0,0L-0.3,-0.75L-0.07,-0.75Z", "size": 529, "filled": true, "fill": "#111", "strokeWidth": 0, "opacity": 1}, "encoding": {"x": {"field": "t", "type": "quantitative", "title": null}, "y": {"field": "v", "type": "quantitative", "title": null}}}
      ]},
     {"width": 240, "height": 135, "data": {"name": "t2s"},
      "layer": [
       {"mark": {"type": "line", "stroke": "#3a3a3a", "strokeWidth": 0.9}, "encoding": {"x": {"field": "t", "type": "quantitative", "title": null, "scale": {"domain": [0, 300], "nice": false}, "axis": {"values": [30,60,90,120,150,180,210,240,270]}}, "y": {"field": "v", "type": "quantitative", "title": null, "scale": {"domain": [0, 30], "nice": false}, "axis": {"values": [10, 20]}}, "detail": {"field": "c"}}},
       {"data": {"values": [{"t": 97, "v": 26.2}, {"t": 97, "v": 15.8}, {"t": 97, "v": 6.9}]}, "mark": {"type": "point", "shape": "M-0.07,-2L0.07,-2L0.07,-0.75L0.3,-0.75L0,0L-0.3,-0.75L-0.07,-0.75Z", "size": 529, "filled": true, "fill": "#111", "strokeWidth": 0, "opacity": 1}, "encoding": {"x": {"field": "t", "type": "quantitative", "title": null}, "y": {"field": "v", "type": "quantitative", "title": null}}}
      ]}
    ]
   },
   {
    "title": {"text": "nasal retina stimulation", "fontSize": 13, "dx": -187, "offset": -8},
    "spacing": 6,
    "hconcat": [
     {"width": 236, "height": 145, "data": {"name": "t3d"},
      "layer": [
       {"mark": {"type": "line", "stroke": "#3a3a3a", "strokeWidth": 0.9}, "encoding": {"x": {"field": "t", "type": "quantitative", "title": null, "scale": {"domain": [0, 300], "nice": false}, "axis": {"values": [30,60,90,120,150,180,210,240,270]}}, "y": {"field": "v", "type": "quantitative", "title": null, "scale": {"domain": [0, 30], "nice": false}, "axis": {"values": [10, 20]}}, "detail": {"field": "c"}}},
       {"transform": [{"filter": "datum.t === 0"}], "mark": {"type": "text", "align": "right", "baseline": "middle", "dx": -6, "font": "Liberation Mono", "fontSize": 12, "fill": "#222"}, "encoding": {"x": {"field": "t", "type": "quantitative", "title": null}, "y": {"field": "v", "type": "quantitative", "title": null}, "text": {"field": "c"}}},
       {"data": {"values": [{"t": 97, "v": 28.7}, {"t": 97, "v": 19.0}, {"t": 97, "v": 8.6}]}, "mark": {"type": "point", "shape": "M-0.07,-2L0.07,-2L0.07,-0.75L0.3,-0.75L0,0L-0.3,-0.75L-0.07,-0.75Z", "size": 529, "filled": true, "fill": "#111", "strokeWidth": 0, "opacity": 1}, "encoding": {"x": {"field": "t", "type": "quantitative", "title": null}, "y": {"field": "v", "type": "quantitative", "title": null}}}
      ]},
     {"width": 240, "height": 145, "data": {"name": "t3s"},
      "layer": [
       {"mark": {"type": "line", "stroke": "#3a3a3a", "strokeWidth": 0.9}, "encoding": {"x": {"field": "t", "type": "quantitative", "title": null, "scale": {"domain": [0, 300], "nice": false}, "axis": {"values": [30,60,90,120,150,180,210,240,270]}}, "y": {"field": "v", "type": "quantitative", "title": null, "scale": {"domain": [0, 30], "nice": false}, "axis": {"values": [10, 20]}}, "detail": {"field": "c"}}},
       {"data": {"values": [{"t": 99, "v": 27.1}, {"t": 99, "v": 16.1}, {"t": 99, "v": 6.6}]}, "mark": {"type": "point", "shape": "M-0.07,-2L0.07,-2L0.07,-0.75L0.3,-0.75L0,0L-0.3,-0.75L-0.07,-0.75Z", "size": 529, "filled": true, "fill": "#111", "strokeWidth": 0, "opacity": 1}, "encoding": {"x": {"field": "t", "type": "quantitative", "title": null}, "y": {"field": "v", "type": "quantitative", "title": null}}},
       {"data": {"values": [{"t": 315, "v": 5.2, "t2": 345, "v2": 5.2}, {"t": 345, "v": 5.2, "t2": 345, "v2": 10.2}]}, "mark": {"type": "rule", "stroke": "#222", "strokeWidth": 1.3}, "encoding": {"x": {"field": "t", "type": "quantitative", "title": null}, "y": {"field": "v", "type": "quantitative", "title": null}, "x2": {"field": "t2"}, "y2": {"field": "v2"}}},
       {"data": {"values": [{"t": 353, "v": 8.9, "s": "5 µV"}, {"t": 315, "v": 1.2, "s": "30 ms"}]}, "mark": {"type": "text", "align": "left", "baseline": "middle", "fontSize": 11}, "encoding": {"x": {"field": "t", "type": "quantitative", "title": null}, "y": {"field": "v", "type": "quantitative", "title": null}, "text": {"field": "s"}}}
      ]}
    ]
   }
   ]
  }
  ]
 }
 ]
},
{
 "title": {"text": "(30' 13Hz)", "fontSize": 14, "dx": -13, "dy": 18, "offset": 0},
 "vconcat": [
 {
  "title": {"text": "< steady-state P-VEP >", "fontSize": 19, "dx": -244, "offset": 11},
  "spacing": 36,
  "vconcat": [
  {
   "title": {"text": "full retina stimulation", "fontSize": 13, "dx": -187, "offset": 0, "dy": 24},
   "spacing": 3,
   "hconcat": [
    {"width": 237, "height": 150, "data": {"name": "s1d"}, "title": {"text": "OD", "fontSize": 20, "dx": 7, "offset": 9},
     "layer": [
      {"mark": {"type": "line", "stroke": "#3a3a3a", "strokeWidth": 0.9}, "encoding": {"x": {"field": "t", "type": "quantitative", "title": null, "scale": {"domain": [0, 300], "nice": false}, "axis": {"values": [30,60,90,120,150,180,210,240,270]}}, "y": {"field": "v", "type": "quantitative", "title": null, "scale": {"domain": [0, 30], "nice": false}, "axis": {"values": [10, 20]}}, "detail": {"field": "c"}}},
      {"transform": [{"filter": "datum.t === 0"}], "mark": {"type": "text", "align": "right", "baseline": "middle", "dx": -6, "font": "Liberation Mono", "fontSize": 12, "fill": "#222"}, "encoding": {"x": {"field": "t", "type": "quantitative", "title": null}, "y": {"field": "v", "type": "quantitative", "title": null}, "text": {"field": "c"}}},
      {"data": {"values": [{"t": 150, "v": 31.0}]}, "mark": {"type": "point", "shape": "M-0.55,-1.3L0.55,-1.3L0.55,-0.65L1,-0.65L0,0L-1,-0.65L-0.55,-0.65Z", "size": 400, "filled": true, "fill": "#111", "strokeWidth": 0, "opacity": 1}, "encoding": {"x": {"field": "t", "type": "quantitative", "title": null}, "y": {"field": "v", "type": "quantitative", "title": null}}}
     ]},
    {"width": 240, "height": 150, "data": {"name": "s1s"}, "title": {"text": "OS", "fontSize": 20, "dx": 7, "offset": 9},
     "layer": [
      {"mark": {"type": "line", "stroke": "#3a3a3a", "strokeWidth": 0.9}, "encoding": {"x": {"field": "t", "type": "quantitative", "title": null, "scale": {"domain": [0, 300], "nice": false}, "axis": {"values": [30,60,90,120,150,180,210,240,270]}}, "y": {"field": "v", "type": "quantitative", "title": null, "scale": {"domain": [0, 30], "nice": false}, "axis": {"values": [10, 20]}}, "detail": {"field": "c"}}},
      {"data": {"values": [{"t": 149, "v": 31.0}]}, "mark": {"type": "point", "shape": "M-0.55,-1.3L0.55,-1.3L0.55,-0.65L1,-0.65L0,0L-1,-0.65L-0.55,-0.65Z", "size": 400, "filled": true, "fill": "#111", "strokeWidth": 0, "opacity": 1}, "encoding": {"x": {"field": "t", "type": "quantitative", "title": null}, "y": {"field": "v", "type": "quantitative", "title": null}}}
     ]}
   ]
  },
  {
   "spacing": 9,
   "vconcat": [
   {
    "title": {"text": "temporal retina stimulation", "fontSize": 13, "dx": -187, "offset": -4},
    "spacing": 3,
    "hconcat": [
     {"width": 237, "height": 150, "data": {"name": "s2d"},
      "layer": [
       {"mark": {"type": "line", "stroke": "#3a3a3a", "strokeWidth": 0.9}, "encoding": {"x": {"field": "t", "type": "quantitative", "title": null, "scale": {"domain": [0, 300], "nice": false}, "axis": {"values": [30,60,90,120,150,180,210,240,270]}}, "y": {"field": "v", "type": "quantitative", "title": null, "scale": {"domain": [0, 30], "nice": false}, "axis": {"values": [10, 20]}}, "detail": {"field": "c"}}},
       {"transform": [{"filter": "datum.t === 0"}], "mark": {"type": "text", "align": "right", "baseline": "middle", "dx": -6, "font": "Liberation Mono", "fontSize": 12, "fill": "#222"}, "encoding": {"x": {"field": "t", "type": "quantitative", "title": null}, "y": {"field": "v", "type": "quantitative", "title": null}, "text": {"field": "c"}}},
       {"data": {"values": [{"t": 150, "v": 31.0}]}, "mark": {"type": "point", "shape": "M-0.55,-1.3L0.55,-1.3L0.55,-0.65L1,-0.65L0,0L-1,-0.65L-0.55,-0.65Z", "size": 400, "filled": true, "fill": "#111", "strokeWidth": 0, "opacity": 1}, "encoding": {"x": {"field": "t", "type": "quantitative", "title": null}, "y": {"field": "v", "type": "quantitative", "title": null}}}
      ]},
     {"width": 240, "height": 150, "data": {"name": "s2s"},
      "layer": [
       {"mark": {"type": "line", "stroke": "#3a3a3a", "strokeWidth": 0.9}, "encoding": {"x": {"field": "t", "type": "quantitative", "title": null, "scale": {"domain": [0, 300], "nice": false}, "axis": {"values": [30,60,90,120,150,180,210,240,270]}}, "y": {"field": "v", "type": "quantitative", "title": null, "scale": {"domain": [0, 30], "nice": false}, "axis": {"values": [10, 20]}}, "detail": {"field": "c"}}},
       {"data": {"values": [{"t": 151, "v": 31.0}]}, "mark": {"type": "point", "shape": "M-0.55,-1.3L0.55,-1.3L0.55,-0.65L1,-0.65L0,0L-1,-0.65L-0.55,-0.65Z", "size": 400, "filled": true, "fill": "#111", "strokeWidth": 0, "opacity": 1}, "encoding": {"x": {"field": "t", "type": "quantitative", "title": null}, "y": {"field": "v", "type": "quantitative", "title": null}}}
      ]}
    ]
   },
   {
    "title": {"text": "nasal retina stimulation", "fontSize": 13, "dx": -187, "offset": -1},
    "spacing": 3,
    "hconcat": [
     {"width": 237, "height": 150, "data": {"name": "s3d"},
      "layer": [
       {"mark": {"type": "line", "stroke": "#3a3a3a", "strokeWidth": 0.9}, "encoding": {"x": {"field": "t", "type": "quantitative", "title": null, "scale": {"domain": [0, 300], "nice": false}, "axis": {"values": [30,60,90,120,150,180,210,240,270]}}, "y": {"field": "v", "type": "quantitative", "title": null, "scale": {"domain": [0, 30], "nice": false}, "axis": {"values": [10, 20]}}, "detail": {"field": "c"}}},
       {"transform": [{"filter": "datum.t === 0"}], "mark": {"type": "text", "align": "right", "baseline": "middle", "dx": -6, "font": "Liberation Mono", "fontSize": 12, "fill": "#222"}, "encoding": {"x": {"field": "t", "type": "quantitative", "title": null}, "y": {"field": "v", "type": "quantitative", "title": null}, "text": {"field": "c"}}},
       {"data": {"values": [{"t": 152, "v": 31.0}]}, "mark": {"type": "point", "shape": "M-0.55,-1.3L0.55,-1.3L0.55,-0.65L1,-0.65L0,0L-1,-0.65L-0.55,-0.65Z", "size": 400, "filled": true, "fill": "#111", "strokeWidth": 0, "opacity": 1}, "encoding": {"x": {"field": "t", "type": "quantitative", "title": null}, "y": {"field": "v", "type": "quantitative", "title": null}}}
      ]},
     {"width": 240, "height": 150, "data": {"name": "s3s"},
      "layer": [
       {"mark": {"type": "line", "stroke": "#3a3a3a", "strokeWidth": 0.9}, "encoding": {"x": {"field": "t", "type": "quantitative", "title": null, "scale": {"domain": [0, 300], "nice": false}, "axis": {"values": [30,60,90,120,150,180,210,240,270]}}, "y": {"field": "v", "type": "quantitative", "title": null, "scale": {"domain": [0, 30], "nice": false}, "axis": {"values": [10, 20]}}, "detail": {"field": "c"}}},
       {"data": {"values": [{"t": 149, "v": 31.0}]}, "mark": {"type": "point", "shape": "M-0.55,-1.3L0.55,-1.3L0.55,-0.65L1,-0.65L0,0L-1,-0.65L-0.55,-0.65Z", "size": 400, "filled": true, "fill": "#111", "strokeWidth": 0, "opacity": 1}, "encoding": {"x": {"field": "t", "type": "quantitative", "title": null}, "y": {"field": "v", "type": "quantitative", "title": null}}},
       {"data": {"values": [{"t": 339, "v": 7.8, "t2": 369, "v2": 7.8}, {"t": 369, "v": 7.8, "t2": 369, "v2": 12.8}]}, "mark": {"type": "rule", "stroke": "#222", "strokeWidth": 1.3}, "encoding": {"x": {"field": "t", "type": "quantitative", "title": null}, "y": {"field": "v", "type": "quantitative", "title": null}, "x2": {"field": "t2"}, "y2": {"field": "v2"}}},
       {"data": {"values": [{"t": 376, "v": 11.6, "s": "5 µV"}, {"t": 338, "v": 5.2, "s": "30 ms"}]}, "mark": {"type": "text", "align": "left", "baseline": "middle", "fontSize": 11}, "encoding": {"x": {"field": "t", "type": "quantitative", "title": null}, "y": {"field": "v", "type": "quantitative", "title": null}, "text": {"field": "s"}}}
      ]}
    ]
   }
   ]
  }
  ]
 }
 ]
}
]
}
